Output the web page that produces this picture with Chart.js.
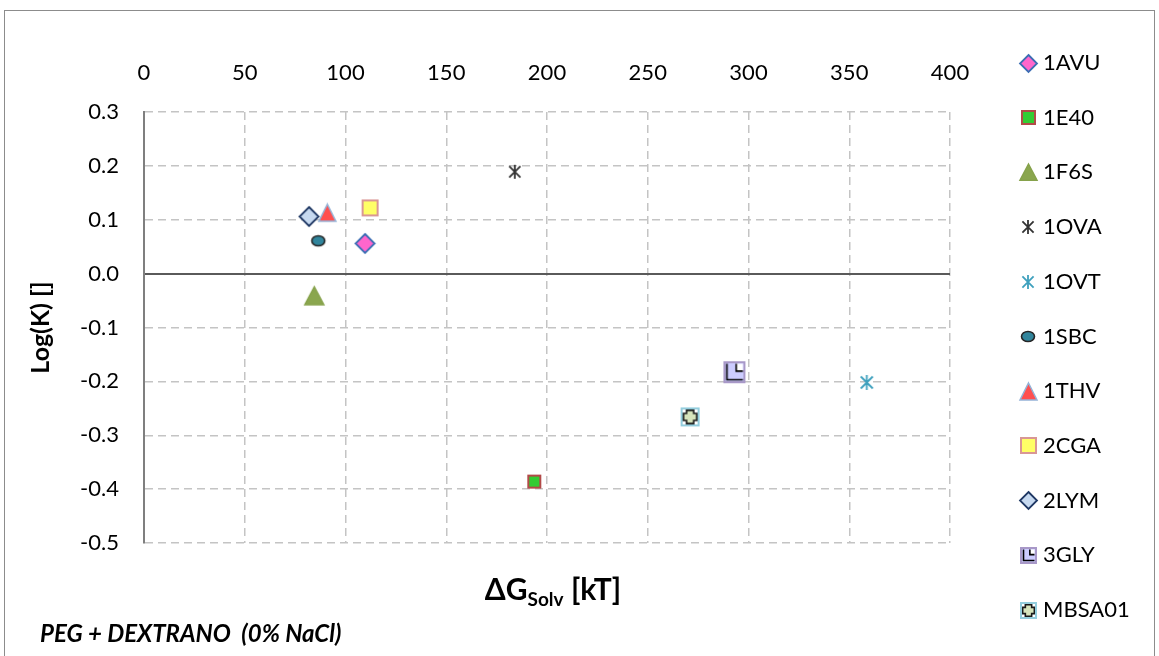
<!DOCTYPE html>
<html>
<head>
<meta charset="utf-8">
<script src="https://cdn.jsdelivr.net/npm/chart.js@4.4.0/dist/chart.umd.min.js"></script>
<style>
  html, body { margin: 0; padding: 0; background: #fff; }
  #wrap { position: relative; width: 1159px; height: 656px; overflow: hidden; }
  #frame { position: absolute; left: 4px; top: 10px; width: 1151px; height: 680px;
           border: 1.5px solid #8c8c8c; box-sizing: border-box; }
  #c { position: absolute; left: 0; top: 0; }
</style>
</head>
<body>
<div id="wrap"><div id="frame"></div><canvas id="c" width="1159" height="656"></canvas></div>
<script>
// ---- data -----------------------------------------------------------------
const proteins = ['1AVU', '1E40', '1F6S', '1OVA', '1OVT', '1SBC', '1THV', '2CGA', '2LYM', '3GLY', 'MBSA01'];
const dGsolv   = [109.7, 193.7, 84.5, 184.0, 358.7, 86.5, 91.0, 112.2, 81.9, 293.0, 271.0];
const logK     = [0.056, -0.386, -0.041, 0.189, -0.202, 0.061, 0.113, 0.122, 0.106, -0.183, -0.266];

const xTicks = [0, 50, 100, 150, 200, 250, 300, 350, 400];
const xTickLabels = ['0', '50', '100', '150', '200', '250', '300', '350', '400'];
const yTicks = [-0.5, -0.4, -0.3, -0.2, -0.1, 0, 0.1, 0.2, 0.3];
const yTickLabels = ['-0.5', '-0.4', '-0.3', '-0.2', '-0.1', '0.0', '0.1', '0.2', '0.3'];

const FONT = 'Lato, "Open Sans", sans-serif';
const GRID = '#c4c4c4';
const DASH = [8, 5];

// ---- Excel-style marker glyphs, drawn once into small canvases -------------
function glyph(w, h, draw) {
  const c = document.createElement('canvas');
  c.width = w; c.height = h;
  const g = c.getContext('2d');
  g.lineJoin = 'miter';
  draw(g, w / 2, h / 2);
  return c;
}
function diamond(fill, stroke, s) {
  return glyph(s + 4, s + 4, (g, cx, cy) => {
    const r = s / 2;
    g.beginPath();
    g.moveTo(cx, cy - r); g.lineTo(cx + r, cy); g.lineTo(cx, cy + r); g.lineTo(cx - r, cy);
    g.closePath();
    g.fillStyle = fill; g.fill();
    g.lineWidth = 1.8; g.strokeStyle = stroke; g.stroke();
  });
}
function square(fill, stroke, s, lw) {
  return glyph(s + 2, s + 2, (g, cx, cy) => {
    const h = s / 2 - lw / 2;
    g.fillStyle = fill; g.fillRect(cx - h, cy - h, 2 * h, 2 * h);
    g.lineWidth = lw; g.strokeStyle = stroke; g.strokeRect(cx - h, cy - h, 2 * h, 2 * h);
  });
}
function triangle(fill, stroke, w, h) {
  return glyph(w + 4, h + 4, (g, cx, cy) => {
    g.beginPath();
    g.moveTo(cx, cy - h / 2); g.lineTo(cx + w / 2, cy + h / 2); g.lineTo(cx - w / 2, cy + h / 2);
    g.closePath();
    g.fillStyle = fill; g.fill();
    g.lineWidth = 1.5; g.strokeStyle = stroke; g.stroke();
  });
}
function star(color, s) {
  return glyph(s + 2, s + 2, (g, cx, cy) => {
    const r = s / 2;
    g.strokeStyle = color; g.lineWidth = 1.8; g.lineCap = 'butt';
    g.beginPath();
    g.moveTo(cx - r * 0.8, cy - r * 0.8); g.lineTo(cx + r * 0.8, cy + r * 0.8);
    g.moveTo(cx + r * 0.8, cy - r * 0.8); g.lineTo(cx - r * 0.8, cy + r * 0.8);
    g.moveTo(cx, cy - r); g.lineTo(cx, cy + r);
    g.stroke();
  });
}
function ellipse(fill, stroke, w, h) {
  return glyph(w + 3, h + 3, (g, cx, cy) => {
    g.beginPath(); g.ellipse(cx, cy, w / 2 - 1, h / 2 - 1, 0, 0, Math.PI * 2);
    g.fillStyle = fill; g.fill();
    g.lineWidth = 1.6; g.strokeStyle = stroke; g.stroke();
  });
}
function cornerSquare(s) {   // 3GLY: lavender square with black "L" notch
  return glyph(s + 2, s + 2, (g, cx, cy) => {
    const h = s / 2 - 1;
    const x0 = cx - h, y0 = cy - h, x1 = cx + h, y1 = cy + h;
    g.fillStyle = '#ccccff'; g.fillRect(x0, y0, 2 * h, 2 * h);
    const mx = cx + s * 0.08, my = cy - s * 0.05;
    g.fillStyle = '#ffffff'; g.fillRect(mx, y0 + 1.5, x1 - mx - 1.5, my - y0 - 1.5);
    g.strokeStyle = '#000'; g.lineWidth = 1.6;
    g.beginPath();
    g.moveTo(x0 + 2.5, y0 + 1.5); g.lineTo(x0 + 2.5, y1 - 2.5); g.lineTo(x1 - 1.5, y1 - 2.5);
    g.moveTo(mx, y0 + 1.5); g.lineTo(mx, my); g.lineTo(x1 - 1.5, my);
    g.stroke();
    g.lineWidth = 2; g.strokeStyle = '#a898c8'; g.strokeRect(x0, y0, 2 * h, 2 * h);
  });
}
function crossSquare(s) {    // MBSA01: light blue box holding a green plus
  return glyph(s + 2, s + 2, (g, cx, cy) => {
    const h = s / 2 - 1;
    g.fillStyle = '#ffffff'; g.fillRect(cx - h, cy - h, 2 * h, 2 * h);
    const a = h * 0.78, b = h * 0.42;
    g.beginPath();
    g.moveTo(cx - b, cy - a); g.lineTo(cx + b, cy - a); g.lineTo(cx + b, cy - b); g.lineTo(cx + a, cy - b);
    g.lineTo(cx + a, cy + b); g.lineTo(cx + b, cy + b); g.lineTo(cx + b, cy + a); g.lineTo(cx - b, cy + a);
    g.lineTo(cx - b, cy + b); g.lineTo(cx - a, cy + b); g.lineTo(cx - a, cy - b); g.lineTo(cx - b, cy - b);
    g.closePath();
    g.fillStyle = '#d7e4bc'; g.fill();
    g.lineWidth = 1.6; g.strokeStyle = '#1a1a1a'; g.stroke();
    g.lineWidth = 2; g.strokeStyle = '#93cddd'; g.strokeRect(cx - h, cy - h, 2 * h, 2 * h);
  });
}

// one builder per protein, called with the plot size and the legend size
const markerMakers = [
  s => diamond('#ff66cc', '#3c6eb4', s),
  s => square('#33cc33', '#b24a48', s, 2),
  s => triangle('#8aa64e', '#86a24b', s, s * 0.95),
  s => star('#333333', s),
  s => star('#3ea0bd', s),
  s => ellipse('#31859c', '#262626', s, s * 0.8),
  s => triangle('#ff4f4f', '#95b3d7', s, s),
  s => square('#ffff66', '#d99795', s, 2),
  s => diamond('#c6d9f0', '#1f3864', s),
  s => cornerSquare(s),
  s => crossSquare(s),
];
const plotSizes   = [19, 14, 19, 14, 15, 15, 17, 17, 19, 22, 19];
const legendSizes = [17, 15, 17, 14, 14, 15, 17, 17, 17, 17, 17];

const plotGlyphs = markerMakers.map((m, i) => m(plotSizes[i]));
const legendGlyphs = markerMakers.map((m, i) => m(legendSizes[i]));

// ---- ticks from the arrays above (scale callbacks, not plugin hooks) --------
function setTicks(scale, values, labels) {
  scale.ticks = values.map((v, i) => ({ value: v, label: labels[i] }));
}
function setLabels(scale, labels) {
  scale.ticks.forEach((t, i) => { t.label = labels[i]; });
}

// ---- legend column on the right, x-axis title with subscript, footnote -----
const LEG_X = 1028, LEG_TEXT_X = 1043, LEG_TOP = 63, LEG_STEP = 54.7;
const extras = {
  id: 'extras',
  afterDraw(chart) {
    const ctx = chart.ctx;
    ctx.save();
    ctx.fillStyle = '#000';
    ctx.textBaseline = 'middle';
    ctx.font = '22px ' + FONT;
    chart.data.datasets.forEach((ds, i) => {
      const y = LEG_TOP + i * LEG_STEP;
      const img = legendGlyphs[i];
      ctx.drawImage(img, Math.round(LEG_X - img.width / 2), Math.round(y - img.height / 2));
      ctx.fillText(ds.label, LEG_TEXT_X, y);
    });

    // x-axis title: ΔG with subscript "Solv"
    const big = 'bold 30px ' + FONT, small = 'bold 19px ' + FONT;
    const parts = [['ΔG', big, 0], ['Solv', small, 6], [' [kT]', big, 0]];
    let total = 0;
    parts.forEach(p => { ctx.font = p[1]; total += ctx.measureText(p[0]).width; });
    let x = 553 - total / 2;
    ctx.textBaseline = 'alphabetic';
    parts.forEach(p => {
      ctx.font = p[1];
      ctx.fillText(p[0], x, 600 + p[2]);
      x += ctx.measureText(p[0]).width;
    });

    ctx.font = 'italic bold 24px ' + FONT;
    ctx.fillText('PEG + DEXTRANO  (0% NaCl)', 40, 642);
    ctx.restore();
  },
};

const datasets = proteins.map((name, i) => ({
  label: name,
  data: [{ x: dGsolv[i], y: logK[i] }],
  pointStyle: plotGlyphs[i],
  pointRadius: 9,
  pointHoverRadius: 9,
}));

new Chart(document.getElementById('c'), {
  type: 'scatter',
  data: { datasets },
  plugins: [extras],
  options: {
    responsive: false,
    devicePixelRatio: 1,
    animation: false,
    layout: { padding: { left: 20, top: 40, right: 209, bottom: 113 } },
    plugins: { legend: { display: false }, tooltip: { enabled: false } },
    scales: {
      x: {
        type: 'linear', position: 'top', min: 0, max: 400,
        afterBuildTicks(scale) { setTicks(scale, xTicks, xTickLabels); },
        afterTickToLabelConversion(scale) { setLabels(scale, xTickLabels); },
        afterFit(scale) { scale.height = 72; },
        grid: { color: GRID, lineWidth: 1.5, drawTicks: false },
        border: { display: false, dash: DASH },
        ticks: { padding: 26, color: '#000', font: { size: 22, family: FONT } },
      },
      y: {
        type: 'linear', min: -0.5, max: 0.3,
        afterBuildTicks(scale) { setTicks(scale, yTicks, yTickLabels); },
        afterTickToLabelConversion(scale) { setLabels(scale, yTickLabels); },
        afterFit(scale) { scale.width = 124; },
        grid: {
          drawTicks: false,
          color: c => (Math.abs(c.tick.value) < 1e-9 ? '#5a5a5a' : GRID),
          lineWidth: c => (Math.abs(c.tick.value) < 1e-9 ? 2 : 1.5),
        },
        border: {
          display: true, color: '#7f7f7f', width: 2,
          dash: c => (c.tick && Math.abs(c.tick.value) < 1e-9 ? [] : DASH),
        },
        title: {
          display: true, text: 'Log(K) []', color: '#000',
          font: { size: 25, weight: 'bold', family: FONT },
          padding: { top: 6, bottom: 0 },
        },
        ticks: { padding: 25, color: '#000', font: { size: 22, family: FONT } },
      },
    },
  },
});
</script>
</body>
</html>
